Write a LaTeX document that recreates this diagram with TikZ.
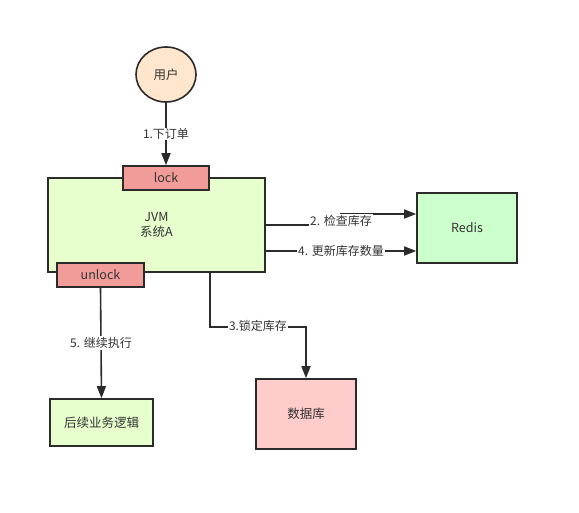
\documentclass[tikz,border=0pt]{standalone}
\usepackage{fontspec}
\setmainfont{Noto Sans CJK SC}
\usetikzlibrary{arrows.meta,shapes.geometric,calc}
\definecolor{strk}{HTML}{2B2B2B}
\definecolor{txt}{HTML}{333333}
\begin{document}
\begin{tikzpicture}[x=1pt,y=-1pt,
  box/.style={draw=strk,line width=1.6pt,rectangle,inner sep=0pt,text=txt,font=\fontsize{12.5}{15}\selectfont,align=center},
  arr/.style={draw=strk,line width=1.6pt,-{Triangle[length=12pt,width=9pt]}},
  lbl/.style={fill=white,inner sep=1pt,text=txt,font=\fontsize{12}{14}\selectfont}]
\useasboundingbox (0,0) rectangle (579,512);
\node[box,ellipse,fill={rgb,255:red,255;green,230;blue,204},minimum width=60pt,minimum height=55pt] (user) at (166,74.5) {用户};
\node[box,fill={rgb,255:red,230;green,255;blue,204},minimum width=217pt,minimum height=94pt] (jvm) at (156.5,225) {JVM\\[0pt]系统A};
\node[box,fill={rgb,255:red,241;green,156;blue,153},minimum width=86pt,minimum height=24pt] (lock) at (166,178) {lock};
\node[box,fill={rgb,255:red,241;green,156;blue,153},minimum width=87pt,minimum height=24pt] (unlock) at (100.5,275) {unlock};
\node[box,fill={rgb,255:red,204;green,255;blue,204},minimum width=100pt,minimum height=70pt] (redis) at (467,228) {Redis};
\node[box,fill={rgb,255:red,255;green,204;blue,204},minimum width=100pt,minimum height=70pt] (db) at (306,414) {数据库};
\node[box,fill={rgb,255:red,230;green,255;blue,204},minimum width=103pt,minimum height=47pt] (biz) at (101.5,422.5) {后续业务逻辑};
% 1
\draw[arr] (user.south) -- node[lbl] {1.下订单} (lock.north);
% 2
\coordinate (r2) at ([yshift=14pt]redis.west);
\draw[arr] (jvm.east) -- (341,225) |- (r2);
\node[lbl] (l2) at (341,221) {2. 检查库存};
% 4
\coordinate (a4) at ([yshift=-26pt]jvm.east);
\draw[arr] (a4) -- node[lbl] {4. 更新库存数量} (a4 -| redis.west);
% 3
\coordinate (a3) at ([xshift=53.5pt]jvm.south);
\draw[arr] (a3) -- ++(0,54) -| (db.north);
\node[lbl] (l3) at (258,326) {3.锁定库存};
% 5
\draw[arr] (unlock.south) -- node[lbl] {5. 继续执行} (biz.north);
\end{tikzpicture}
\end{document}
